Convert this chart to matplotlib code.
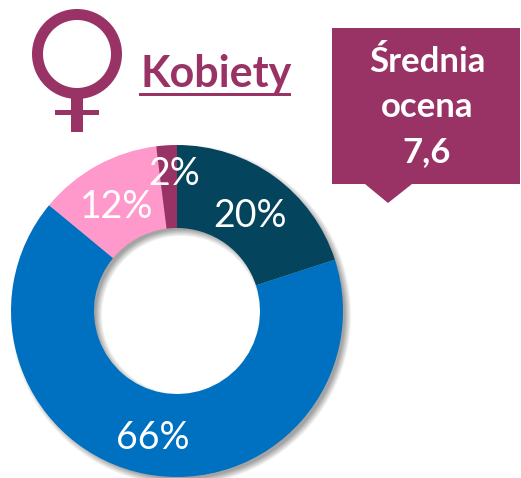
import numpy as np
import matplotlib
matplotlib.use("Agg")
import matplotlib.pyplot as plt
from matplotlib.patches import Circle, Polygon, Rectangle

# Chart data
shares = [20, 66, 12, 2]
colors = ["#04445c", "#0070c0", "#ff99cc", "#993366"]
title = "Kobiety"
box_lines = ["Średnia", "ocena", "7,6"]

W, H = 521, 478
PURPLE = "#993366"
CX, CY, R_OUT, R_IN = 177, 311, 166, 83


def flip(y):
    return H - y


plt.rcParams["font.family"] = ["Lato", "DejaVu Sans"]

fig = plt.figure(figsize=(W / 100, H / 100), dpi=100)
ax = fig.add_axes([0, 0, 1, 1])
ax.set_xlim(0, W)
ax.set_ylim(0, H)
ax.axis("off")

# soft drop shadow under the ring, offset to the lower right
xx, yy = np.meshgrid(np.arange(W) + 0.5, np.arange(H) + 0.5)
d = np.hypot(xx - (CX + 4), yy - (CY + 4))
soft = 7.0
outer = np.clip((R_OUT + 1 - d) / soft + 0.5, 0, 1)
inner = np.clip((d - R_IN + 1) / soft + 0.5, 0, 1)
shadow = np.zeros((H, W, 4))
shadow[..., :3] = 0.35
shadow[..., 3] = 0.55 * outer * inner
ax.imshow(shadow, extent=(0, W, 0, H), origin="upper", zorder=1, aspect="auto")

wedges, _ = ax.pie(
    shares,
    colors=colors,
    startangle=90,
    counterclock=False,
    center=(CX, flip(CY)),
    radius=R_OUT,
    wedgeprops=dict(width=R_OUT - R_IN, linewidth=0),
    frame=True,
)
for w in wedges:
    w.set_zorder(2)
ax.set_xlim(0, W)
ax.set_ylim(0, H)
ax.set_aspect("auto")
ax.axis("off")

# percent labels, same order as shares
label_pos = [(250, 227), (153, 449), (117, 218), (174, 185)]
for v, (x, y) in zip(shares, label_pos):
    ax.text(x, flip(y), f"{v}%", color="white", fontsize=27, ha="center",
            va="baseline", zorder=5)

# female sign
ax.add_patch(Circle((77, flip(54)), 39.5, fill=False, ec=PURPLE, lw=11 * 0.72, zorder=3))
ax.add_patch(Rectangle((71, flip(132)), 12, 34, fc=PURPLE, ec="none", zorder=3))
ax.add_patch(Rectangle((55, flip(115)), 44, 5, fc=PURPLE, ec="none", zorder=3))

# heading
ax.text(216, flip(87), title, color=PURPLE, fontsize=31, fontweight="bold",
        ha="center", va="baseline", zorder=3)
ax.add_patch(Rectangle((139, flip(95.5)), 152, 2.5, fc=PURPLE, ec="none", zorder=3))

# callout box
ax.add_patch(Polygon(
    [(332, flip(28)), (520, flip(28)), (520, flip(184)), (412, flip(184)),
     (388, flip(203)), (365, flip(184)), (332, flip(184))],
    closed=True, fc=PURPLE, ec="none", zorder=3,
))
for line, y in zip(box_lines, [72, 117, 162]):
    ax.text(427, flip(y), line, color="white", fontsize=25, fontweight="bold",
            ha="center", va="baseline", zorder=4)

fig.savefig("out.png", dpi=100)
